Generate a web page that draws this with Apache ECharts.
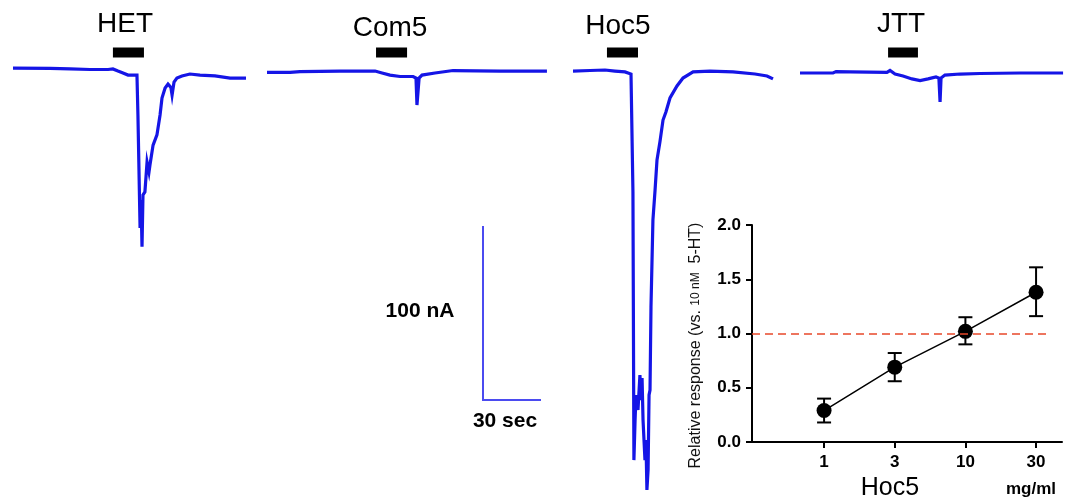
<!DOCTYPE html>
<html>
<head>
<meta charset="utf-8">
<script src="https://cdn.jsdelivr.net/npm/echarts@6/dist/echarts.min.js"></script>
<style>html,body{margin:0;padding:0;background:#fff}#c{width:1067px;height:499px}</style>
</head>
<body>
<div id="c"></div>
<script>
// ---- Trace data: [time (s), current (nA) relative to common baseline] ----
const traceNames = ['HET', 'Com5', 'Hoc5', 'JTT'];
const traceDurations = [120.1, 144.3, 103.1, 135.6];   // s
const hetTrace = [[0,1.1],[19.1,0.9],[29.4,0.6],[39.7,0.3],[49,0.3],[51.5,0.6],[54.1,-0.6],[56.7,-1.7],[59.3,-2.9],[63.9,-2.9],[64.4,-25.7],[65,-26.3],[65.5,-90.3],[66,-74.3],[66.5,-101],[67,-71.4],[68,-69.7],[69.1,-52.6],[70.1,-58.3],[70.6,-54.3],[72.2,-42.9],[74.2,-37.1],[75.8,-25.7],[76.8,-16],[78.4,-10.3],[79.9,-8],[81.4,-10],[82,-14.3],[83,-6.9],[84.5,-4.6],[87.1,-3.4],[91.2,-2.3],[96.4,-2.9],[104.1,-3.4],[111.9,-4.6],[120.1,-4.6]];
const com5Trace = [[0,-1.4],[11.9,-1.4],[17,-0.9],[37.6,-0.6],[55.7,-0.6],[56.7,0.3],[59.3,-1.7],[63.4,-2.9],[68.6,-3.7],[75.3,-3.7],[76.8,-4.6],[77.3,-20],[77.8,-20.6],[78.4,-4.6],[79.9,-2.9],[86.6,-1.7],[95.9,-0.3],[120.1,-0.6],[144.3,-0.6]];
const hoc5Trace = [[0,-0.6],[8.8,-0.3],[16.5,0],[21.6,-0.6],[26.8,-1.1],[29.9,-2.3],[30.4,-3.4],[30.9,-69.7],[31.4,-222.9],[32,-200],[32.5,-185.7],[33.5,-194.3],[34.5,-174.3],[35.1,-188.6],[35.6,-176],[36.1,-200],[37.1,-222.9],[37.6,-211.4],[38.1,-240],[38.7,-228.6],[39.2,-185.7],[39.7,-182.9],[40.2,-135.4],[41.2,-85.7],[42.3,-68.6],[43.3,-51.4],[44.8,-41.1],[46.4,-28.6],[47.9,-24],[50,-16],[53.6,-9.1],[56.7,-4.6],[61.9,-1.1],[70.6,-0.6],[82.5,-1.1],[93.8,-2.3],[100,-3.4],[103.1,-5.1]];
const jttTrace = [[0,-1.7],[17,-1.7],[18.6,-0.9],[25.8,-1.1],[44.8,-1.4],[46.4,-0.3],[49,-2.3],[53.1,-3.4],[57.7,-5.1],[61.9,-6],[66,-5.1],[70.1,-4],[71.6,-4.6],[72.2,-18.3],[72.7,-4.6],[74.7,-2.9],[82.5,-2.3],[92.8,-2],[113.4,-1.7],[135.6,-1.7]];
const traces = [hetTrace, com5Trace, hoc5Trace, jttTrace];
// drug application periods [start s, end s]
const applications = [[51.5,67.5],[56.2,72.2],[17.5,33.5],[45.4,60.8]];
// scale bar
const scaleTime = 30;     // sec
const scaleCurrent = 100; // nA

// ---- Dose-response inset ----
const doses = ['1', '3', '10', '30'];
const responseMean = [0.29, 0.69, 1.02, 1.38];
const responseLow  = [0.18, 0.56, 0.90, 1.16];
const responseHigh = [0.40, 0.82, 1.15, 1.61];
const referenceLevel = 1.0;

// ---- layout ----
const PX_PER_SEC = 1.94;
const traceLefts = [13, 267, 573, 800];
const Y_MIN = -245.14, Y_MAX = 40;
const BLUE = '#1515e6';

const grids = [], xAxes = [], yAxes = [], series = [];
traces.forEach((tr, i) => {
  grids.push({left: traceLefts[i], top: 0, width: traceDurations[i] * PX_PER_SEC, height: 499});
  xAxes.push({type: 'value', gridIndex: i, min: 0, max: traceDurations[i], show: false});
  yAxes.push({type: 'value', gridIndex: i, min: Y_MIN, max: Y_MAX, show: false});
  series.push({type: 'line', xAxisIndex: i, yAxisIndex: i, data: tr, showSymbol: false, animation: false,
    lineStyle: {color: BLUE, width: 3.2, join: 'miter'}, silent: true});
  series.push({type: 'line', xAxisIndex: i, yAxisIndex: i,
    data: [[applications[i][0], 10], [applications[i][1], 10]], showSymbol: false, animation: false,
    lineStyle: {color: '#000', width: 10, cap: 'butt'}, silent: true});
});
// scale bar grid
grids.push({left: 483, top: 226, width: 58, height: 174});
xAxes.push({type: 'value', gridIndex: 4, min: 0, max: scaleTime, show: false});
yAxes.push({type: 'value', gridIndex: 4, min: 0, max: scaleCurrent, show: false});
series.push({type: 'line', xAxisIndex: 4, yAxisIndex: 4,
  data: [[0, scaleCurrent], [0, 0], [scaleTime, 0]], showSymbol: false, animation: false,
  lineStyle: {color: '#4b4bf0', width: 2, join: 'miter'}, silent: true});

// inset grid
const X_MIN = -1.02, X_MAX = 3.367;
grids.push({left: 752, top: 225, width: 310, height: 217});
xAxes.push({type: 'value', gridIndex: 5, min: X_MIN, max: X_MAX,
  axisLine: {show: true, onZero: false, lineStyle: {color: '#000', width: 2}},
  axisTick: {show: true, customValues: doses.map((d, k) => k), length: 6, lineStyle: {color: '#000', width: 2}},
  axisLabel: {customValues: doses.map((d, k) => k), formatter: v => doses[Math.round(v)],
    color: '#000', fontFamily: 'Liberation Sans', fontWeight: 'bold', fontSize: 17, margin: 12},
  splitLine: {show: false}});
yAxes.push({type: 'value', gridIndex: 5, min: 0, max: 2, interval: 0.5,
  axisLine: {show: true, onZero: false, lineStyle: {color: '#000', width: 2}},
  axisTick: {show: true, length: 6, lineStyle: {color: '#000', width: 2}},
  axisLabel: {formatter: v => v.toFixed(1), color: '#000', fontFamily: 'Liberation Sans',
    fontWeight: 'bold', fontSize: 17, margin: 11},
  splitLine: {show: false},
  name: '{a|Relative response (vs. }{b|10 nM}{a|  5-HT)}', nameLocation: 'middle', nameRotate: 90, nameGap: 48,
  nameTextStyle: {rich: {a: {fontFamily: 'Liberation Sans', fontSize: 16, color: '#111'},
                         b: {fontFamily: 'Liberation Sans', fontSize: 12, color: '#111'}},
                  padding: [0, 0, 0, -24]}});
series.push({type: 'custom', xAxisIndex: 5, yAxisIndex: 5, animation: false, silent: true, z: 3,
  data: doses.map((d, k) => [k, responseLow[k], responseHigh[k]]),
  renderItem: (params, api) => {
    const x = api.value(0);
    const lo = api.coord([x, api.value(1)]);
    const hi = api.coord([x, api.value(2)]);
    const w = 7;
    const st = {stroke: '#000', lineWidth: 2};
    return {type: 'group', children: [
      {type: 'line', shape: {x1: lo[0], y1: lo[1], x2: hi[0], y2: hi[1]}, style: st},
      {type: 'line', shape: {x1: lo[0]-w, y1: lo[1], x2: lo[0]+w, y2: lo[1]}, style: st},
      {type: 'line', shape: {x1: hi[0]-w, y1: hi[1], x2: hi[0]+w, y2: hi[1]}, style: st}
    ]};
  }});
series.push({type: 'line', xAxisIndex: 5, yAxisIndex: 5, animation: false, silent: true, z: 4,
  data: doses.map((d, k) => [k, responseMean[k]]),
  symbol: 'circle', symbolSize: 15, itemStyle: {color: '#000'},
  lineStyle: {color: '#000', width: 1.5},
  markLine: {silent: true, symbol: 'none', animation: false, label: {show: false},
    lineStyle: {color: '#e8482a', width: 1.5, type: [8, 5]},
    data: [[{coord: [X_MIN, referenceLevel]}, {coord: [3.19, referenceLevel]}]]}});

const titleCenters = [[125, 24], [390, 28], [618, 26], [901, 24]];
const graphics = traceNames.map((n, i) => ({type: 'text', x: titleCenters[i][0], y: titleCenters[i][1],
  style: {text: n, fill: '#000', font: '28px "Liberation Sans"', textAlign: 'center', textVerticalAlign: 'middle'}}));
graphics.push({type: 'text', x: 420, y: 311, style: {text: scaleCurrent + ' nA', fill: '#000',
  font: 'bold 21px "Liberation Sans"', textAlign: 'center', textVerticalAlign: 'middle'}});
graphics.push({type: 'text', x: 505, y: 421, style: {text: scaleTime + ' sec', fill: '#000',
  font: 'bold 21px "Liberation Sans"', textAlign: 'center', textVerticalAlign: 'middle'}});
graphics.push({type: 'text', x: 890, y: 488, style: {text: 'Hoc5', fill: '#000',
  font: '25px "Liberation Sans"', textAlign: 'center', textVerticalAlign: 'middle'}});
graphics.push({type: 'text', x: 1031, y: 489, style: {text: 'mg/ml', fill: '#000',
  font: 'bold 17px "Liberation Sans"', textAlign: 'center', textVerticalAlign: 'middle'}});

const chart = echarts.init(document.getElementById('c'));
chart.setOption({backgroundColor: '#fff', animation: false, grid: grids, xAxis: xAxes, yAxis: yAxes,
  series: series, graphic: graphics});
</script>
</body>
</html>
